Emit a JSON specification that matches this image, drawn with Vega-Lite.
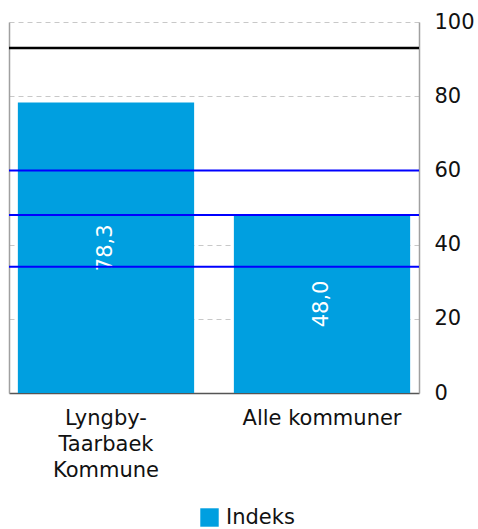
{
  "$schema": "https://vega.github.io/schema/vega-lite/v6.json",
  "autosize": {"type": "none"},
  "padding": {"left": 9, "top": 22, "right": 59, "bottom": 136},
  "width": 410,
  "height": 371,
  "config": {
    "font": "DejaVu Sans",
    "view": {"stroke": null},
    "locale": {"number": {"decimal": ",", "thousands": ".", "grouping": [3], "currency": ["", " kr."]}}
  },
  "datasets": {
    "bars": [
      {"kategori": "Lyngby-Taarbaek Kommune", "serie": "Indeks", "value": 78.3},
      {"kategori": "Alle kommuner", "serie": "Indeks", "value": 48.0}
    ],
    "black": [{"ref": 93}],
    "blue": [{"ref": 60}, {"ref": 48}, {"ref": 34}]
  },
  "resolve": {"scale": {"y": "independent"}, "axis": {"y": "independent"}},
  "layer": [
    {
      "data": {"name": "bars"},
      "mark": {"type": "bar"},
      "encoding": {
        "x": {
          "field": "kategori", "type": "nominal", "sort": null,
          "scale": {"paddingInner": 0.184, "paddingOuter": 0.041},
          "axis": {
            "title": null, "labelAngle": 0, "labelFontSize": 21, "labelColor": "#111",
            "labelLineHeight": 26, "labelPadding": 14, "ticks": false,
            "domainColor": "#555", "domainWidth": 1.5,
            "labelExpr": "datum.value == 'Lyngby-Taarbaek Kommune' ? ['Lyngby-', 'Taarbaek', 'Kommune'] : datum.label"
          }
        },
        "y": {
          "field": "value", "type": "quantitative",
          "scale": {"domain": [0, 100], "nice": false},
          "axis": {
            "title": null, "orient": "right", "values": [0, 20, 40, 60, 80, 100],
            "labelFontSize": 21, "labelColor": "#111", "labelPadding": 15, "ticks": false,
            "domain": true, "domainColor": "#a0a0a0", "domainWidth": 1.5,
            "gridColor": "#c8c8c8", "gridDash": [5, 4], "gridWidth": 1
          }
        },
        "color": {
          "field": "serie", "type": "nominal",
          "scale": {"range": ["#009FE0"]},
          "legend": {
            "title": null, "orient": "none", "legendX": 190, "legendY": 485,
            "symbolType": "square", "symbolSize": 340, "symbolStrokeWidth": 0,
            "labelFontSize": 21, "labelColor": "#111", "labelOffset": 6
          }
        }
      }
    },
    {
      "data": {"name": "bars"},
      "mark": {"type": "text", "angle": 270, "color": "white", "fontSize": 21, "align": "center", "baseline": "middle"},
      "encoding": {
        "x": {"field": "kategori", "type": "nominal", "sort": null},
        "y": {"field": "value", "type": "quantitative", "scale": {"domain": [0, 200], "nice": false}, "axis": null},
        "text": {"field": "value", "type": "quantitative", "format": ".1f"}
      }
    },
    {
      "data": {"name": "black"},
      "mark": {"type": "rule", "color": "black", "strokeWidth": 2.5},
      "encoding": {
        "y": {
          "field": "ref", "type": "quantitative", "scale": {"domain": [0, 100], "nice": false},
          "axis": {"orient": "left", "title": null, "labels": false, "ticks": false, "grid": false, "domain": true, "domainColor": "#a0a0a0", "domainWidth": 1.5}
        }
      }
    },
    {
      "data": {"name": "blue"},
      "mark": {"type": "rule", "color": "#0000FF", "strokeWidth": 2},
      "encoding": {
        "y": {"field": "ref", "type": "quantitative", "scale": {"domain": [0, 100], "nice": false}, "axis": null}
      }
    }
  ]
}
